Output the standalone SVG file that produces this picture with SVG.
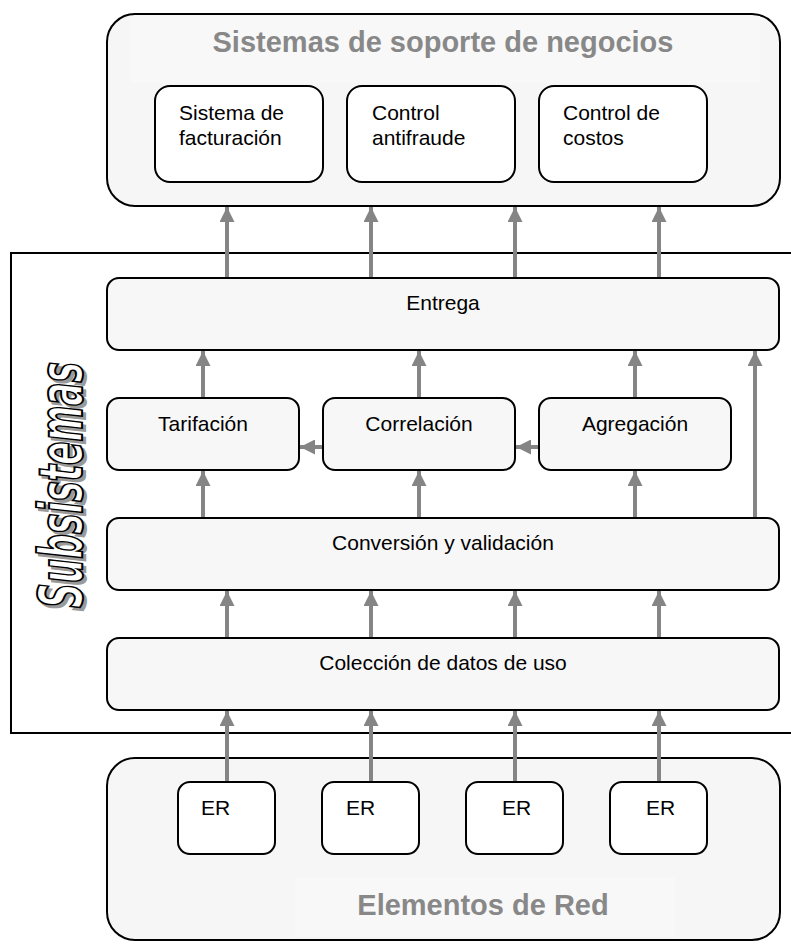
<svg xmlns="http://www.w3.org/2000/svg" width="791" height="947" viewBox="0 0 791 947">
<defs>
<style>
.container{fill:#f6f6f6;stroke:#000;stroke-width:2}
.box{fill:#f7f7f7;stroke:#000;stroke-width:2}
.wbox{fill:#fff;stroke:#000;stroke-width:2}
.t{font-family:"Liberation Sans",Arial,sans-serif;font-size:21px;fill:#000}
.c{text-anchor:middle}
.title{font-family:"Liberation Sans",Arial,sans-serif;font-size:29px;font-weight:bold;fill:#888;text-anchor:middle}
.conn{stroke:#858585;stroke-width:4;fill:none;marker-end:url(#ah)}
.sub{font-family:"DejaVu Sans Condensed","DejaVu Sans",sans-serif;font-stretch:condensed;font-weight:bold;font-style:italic;font-size:60px;text-anchor:middle}
</style>
<marker id="ah" viewBox="0 0 10 10" refX="10" refY="5" markerUnits="userSpaceOnUse" markerWidth="15" markerHeight="15" orient="auto">
<path d="M0,0 L10,5 L0,10 Z" fill="#858585"/>
</marker>
</defs>
<rect width="791" height="947" fill="#fff"/>

<g id="subsistemas">
<path d="M791,253 H11 V733 H791" fill="none" stroke="#000" stroke-width="2"/>
<g transform="translate(85,488) rotate(-90)"><text class="sub" x="0" y="0" textLength="246" lengthAdjust="spacingAndGlyphs" fill="#9a9a9a" stroke="#9a9a9a" stroke-width="2">Subsistemas</text></g>
<g transform="translate(82,485) rotate(-90)"><text class="sub" x="0" y="0" textLength="246" lengthAdjust="spacingAndGlyphs" fill="#fff" stroke="#000" stroke-width="2">Subsistemas</text></g>
</g>

<g id="bss">
<rect class="container" x="107" y="14" width="673" height="192" rx="28"/>
<rect x="130" y="16" width="630" height="67" fill="#f8f8f8"/>
<text class="title" x="443" y="52">Sistemas de soporte de negocios</text>
</g>
<g id="facturacion">
<rect class="wbox" x="155" y="86" width="168" height="96" rx="15"/>
<text class="t" x="179" y="120">Sistema de</text>
<text class="t" x="179" y="145">facturación</text>
</g>
<g id="antifraude">
<rect class="wbox" x="347" y="86" width="168" height="96" rx="15"/>
<text class="t" x="372" y="120">Control</text>
<text class="t" x="372" y="145">antifraude</text>
</g>
<g id="costos">
<rect class="wbox" x="539" y="86" width="168" height="96" rx="15"/>
<text class="t" x="563" y="120">Control de</text>
<text class="t" x="563" y="145">costos</text>
</g>

<g id="entrega">
<rect class="box" x="107" y="278" width="672" height="72" rx="12"/>
<text class="t c" x="443" y="310">Entrega</text>
</g>
<g id="tarifacion">
<rect class="box" x="107" y="398" width="192" height="72" rx="12"/>
<text class="t c" x="203" y="431">Tarifación</text>
</g>
<g id="correlacion">
<rect class="box" x="323" y="398" width="192" height="72" rx="12"/>
<text class="t c" x="419" y="431">Correlación</text>
</g>
<g id="agregacion">
<rect class="box" x="539" y="398" width="192" height="72" rx="12"/>
<text class="t c" x="635" y="431">Agregación</text>
</g>
<g id="conversion">
<rect class="box" x="107" y="518" width="672" height="72" rx="12"/>
<text class="t c" x="443" y="550">Conversión y validación</text>
</g>
<g id="coleccion">
<rect class="box" x="107" y="638" width="672" height="72" rx="12"/>
<text class="t c" x="443" y="670">Colección de datos de uso</text>
</g>

<g id="elementos">
<rect class="container" x="107" y="758" width="673" height="182" rx="28"/>
<rect x="295" y="877" width="380" height="60" fill="#f8f8f8"/>
<text class="title" x="483" y="915">Elementos de Red</text>
</g>
<g id="er1">
<rect class="wbox" x="178" y="782" width="97" height="72" rx="12"/>
<text class="t" x="201" y="815">ER</text>
</g>
<g id="er2">
<rect class="wbox" x="322" y="782" width="97" height="72" rx="12"/>
<text class="t" x="346" y="815">ER</text>
</g>
<g id="er3">
<rect class="wbox" x="466" y="782" width="97" height="72" rx="12"/>
<text class="t" x="502" y="815">ER</text>
</g>
<g id="er4">
<rect class="wbox" x="610" y="782" width="97" height="72" rx="12"/>
<text class="t" x="646" y="815">ER</text>
</g>

<g id="connectors">
<line class="conn" x1="227" y1="277" x2="227" y2="207"/>
<line class="conn" x1="371" y1="277" x2="371" y2="207"/>
<line class="conn" x1="515" y1="277" x2="515" y2="207"/>
<line class="conn" x1="659" y1="277" x2="659" y2="207"/>
<line class="conn" x1="203" y1="397" x2="203" y2="351"/>
<line class="conn" x1="419" y1="397" x2="419" y2="351"/>
<line class="conn" x1="635" y1="397" x2="635" y2="351"/>
<line class="conn" x1="755" y1="517" x2="755" y2="351"/>
<line class="conn" x1="322" y1="447" x2="300" y2="447"/>
<line class="conn" x1="538" y1="447" x2="516" y2="447"/>
<line class="conn" x1="203" y1="517" x2="203" y2="471"/>
<line class="conn" x1="419" y1="517" x2="419" y2="471"/>
<line class="conn" x1="635" y1="517" x2="635" y2="471"/>
<line class="conn" x1="227" y1="637" x2="227" y2="591"/>
<line class="conn" x1="371" y1="637" x2="371" y2="591"/>
<line class="conn" x1="515" y1="637" x2="515" y2="591"/>
<line class="conn" x1="659" y1="637" x2="659" y2="591"/>
<line class="conn" x1="227" y1="781" x2="227" y2="711"/>
<line class="conn" x1="371" y1="781" x2="371" y2="711"/>
<line class="conn" x1="515" y1="781" x2="515" y2="711"/>
<line class="conn" x1="659" y1="781" x2="659" y2="711"/>
</g>
</svg>
